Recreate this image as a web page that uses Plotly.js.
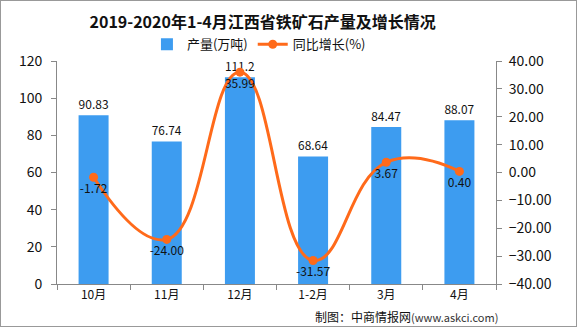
<!DOCTYPE html>
<html>
<head>
<meta charset="utf-8">
<script src="https://cdn.plot.ly/plotly-3.0.1.min.js"></script>
<style>
html,body{margin:0;padding:0;background:#fff;}
#chart{width:575px;height:325px;border:1px solid #999;}
</style>
</head>
<body>
<div id="chart"></div>
<script>
const categories = ['10月', '11月', '12月', '1-2月', '3月', '4月'];
const production = [90.83, 76.74, 111.2, 68.64, 84.47, 88.07];
const growth = [-1.72, -24.00, 35.99, -31.57, 3.67, 0.40];
const productionLabels = ['90.83', '76.74', '111.2', '68.64', '84.47', '88.07'];
const growthLabels = ['-1.72', '-24.00', '35.99', '-31.57', '3.67', '0.40'];

const FONT = '"Noto Sans CJK SC", "Noto Sans", sans-serif';

const traces = [
  {
    type: 'bar',
    name: '产量(万吨)',
    x: categories,
    y: production,
    text: productionLabels,
    textposition: 'outside',
    textfont: {family: FONT, size: 12, color: '#111'},
    cliponaxis: false,
    marker: {color: '#3d9cf0'},
    width: 0.41,
    hoverinfo: 'skip'
  },
  {
    type: 'scatter',
    name: '同比增长(%)',
    x: categories,
    y: growth,
    yaxis: 'y2',
    mode: 'lines+markers+text',
    text: growthLabels,
    textposition: 'bottom center',
    textfont: {family: FONT, size: 12, color: '#111'},
    line: {color: '#ff6a1a', width: 3, shape: 'spline', smoothing: 1.3},
    marker: {color: '#ff6a1a', size: 9},
    cliponaxis: false,
    hoverinfo: 'skip'
  }
];

const layout = {
  width: 575,
  height: 325,
  margin: {l: 56, r: 80, t: 60, b: 42},
  paper_bgcolor: '#fff',
  plot_bgcolor: '#fff',
  font: {family: FONT, size: 12, color: '#111'},
  title: {
    text: '<b>2019-2020年1-4月江西省铁矿石产量及增长情况</b>',
    font: {family: FONT, size: 16, color: '#111'},
    x: 0.455, xanchor: 'center', y: 0.935, yanchor: 'middle'
  },
  showlegend: true,
  legend: {
    orientation: 'h',
    x: 0.46, xanchor: 'center',
    y: 1.075, yanchor: 'middle',
    font: {family: FONT, size: 13, color: '#111'},
    itemwidth: 30,
    traceorder: 'normal'
  },
  xaxis: {
    type: 'category',
    showgrid: false,
    showline: true,
    linecolor: '#888',
    linewidth: 1,
    ticks: 'outside',
    tickson: 'boundaries',
    ticklen: 5,
    tickcolor: '#888',
    tickfont: {family: FONT, size: 12, color: '#111'},
    fixedrange: true
  },
  yaxis: {
    range: [0, 120],
    dtick: 20,
    showgrid: false,
    zeroline: false,
    showline: true,
    linecolor: '#888',
    ticks: 'outside',
    ticklen: 5,
    tickcolor: '#888',
    ticklabelstandoff: 6,
    tickfont: {family: FONT, size: 14, color: '#111'}
  },
  yaxis2: {
    overlaying: 'y',
    side: 'right',
    range: [-40, 40],
    dtick: 10,
    tickformat: '.2f',
    showgrid: false,
    zeroline: false,
    showline: true,
    linecolor: '#888',
    ticks: 'outside',
    ticklen: 5,
    tickcolor: '#888',
    ticklabelstandoff: 4,
    tickfont: {family: FONT, size: 14, color: '#111'}
  },
  annotations: [
    {
      xref: 'paper', yref: 'paper',
      x: 1.01, y: -0.145, xanchor: 'right', yanchor: 'middle',
      showarrow: false,
      text: '制图：中商情报网<span style="font-size:11px;color:#333">(www.askci.com)</span>',
      font: {family: FONT, size: 12, color: '#111'}
    }
  ]
};

Plotly.newPlot('chart', traces, layout, {displayModeBar: false, staticPlot: true});
</script>
</body>
</html>
